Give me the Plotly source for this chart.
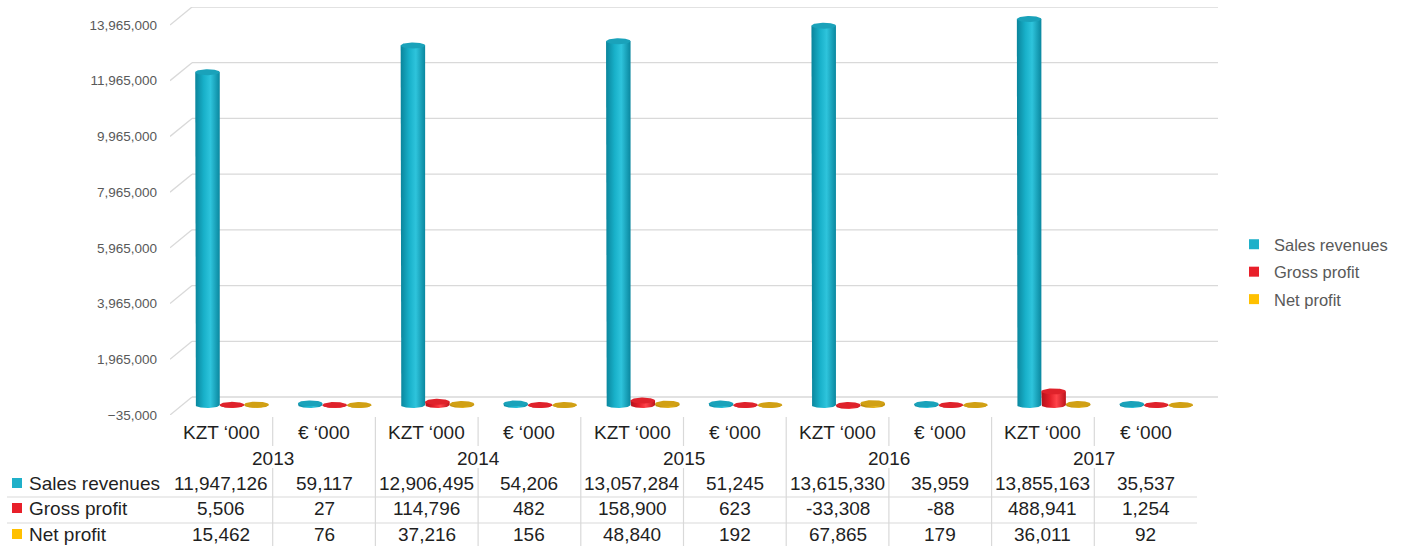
import numpy as np
import plotly.graph_objects as go

# ---- data -------------------------------------------------------------
years = ["2013", "2014", "2015", "2016", "2017"]
units = ["KZT \u2018000", "\u20ac \u2018000"]
series_names = ["Sales revenues", "Gross profit", "Net profit"]
sales_revenues = [11947126, 59117, 12906495, 54206, 13057284, 51245, 13615330, 35959, 13855163, 35537]
gross_profit = [5506, 27, 114796, 482, 158900, 623, -33308, -88, 488941, 1254]
net_profit = [15462, 76, 37216, 156, 48840, 192, 67865, 179, 36011, 92]
tick_values = [-35000, 1965000, 3965000, 5965000, 7965000, 9965000, 11965000, 13965000]

series_values = [sales_revenues, gross_profit, net_profit]
legend_colors = ["#1fb0c9", "#e8202a", "#ffc000"]
body_scales = [
    [[0, "#0a849b"], [0.35, "#18b0c9"], [0.62, "#2ec4dc"], [1, "#0a879f"]],
    [[0, "#b3111a"], [0.35, "#e41f29"], [0.62, "#ff434a"], [1, "#bd131c"]],
    [[0, "#b38405"], [0.35, "#d4a112"], [0.62, "#e7b720"], [1, "#bb8b07"]],
]
cap_colors = ["#1aa2ba", "#df222b", "#d1a014"]

# ---- geometry (pixels of the 1406x546 page) ----------------------------
W, H = 1406, 546
COL_W = 102.7            # width of one table column / category slot
PLOT_L = 170             # left edge of the category area
WALL_R = 1218            # right end of the back-wall grid lines
Y_FRONT_BOT, Y_FRONT_TOP = 415, 7  # vertical extent of the plot box
DEPTH = 9                # half depth offset of the 3-D floor (px)

n_cols = len(sales_revenues)
x_max = (WALL_R - PLOT_L) / COL_W
dy = (tick_values[-1] - tick_values[0]) / (Y_FRONT_BOT - Y_FRONT_TOP - 2 * DEPTH)
dx = 1.0 / COL_W
y_lo = tick_values[0] - DEPTH * dy
y_hi = tick_values[-1] + DEPTH * dy

def px(xp):
    return xp / W

def py(yp):
    return 1 - yp / H

fig = go.Figure()

# ---- cylinders ----------------------------------------------------------
radius = 12.25 * dx
ry = 3.0 * dy
t_low = np.linspace(np.pi, 2 * np.pi, 40)
t_full = np.linspace(0, 2 * np.pi, 80)
for i in range(n_cols):
    for j, vals in enumerate(series_values):
        v = vals[i]
        cx = i + (37.5 + 24.5 * j) * dx
        top, bot = max(v, 0), min(v, 0)
        bx = np.concatenate([[cx - radius], cx + radius * np.cos(t_low), [cx + radius, cx - radius]])
        by = np.concatenate([[top], bot + ry * np.sin(t_low), [top, top]])
        fig.add_trace(go.Scatter(
            x=bx, y=by, mode="lines", fill="toself", line=dict(width=0),
            fillgradient=dict(type="horizontal", colorscale=body_scales[j]),
            showlegend=False, hoverinfo="skip"))
        fig.add_trace(go.Scatter(
            x=cx + radius * np.cos(t_full), y=top + ry * np.sin(t_full),
            mode="lines", fill="toself", line=dict(width=0), fillcolor=cap_colors[j],
            showlegend=False, hoverinfo="skip"))

# ---- legend entries -----------------------------------------------------
for j, name in enumerate(series_names):
    fig.add_trace(go.Scatter(
        x=[None], y=[None], mode="markers", name=name, legendgroup=name,
        marker=dict(symbol="square", size=10, color=legend_colors[j])))

shapes = []
grid = dict(color="#d9d9d9", width=1.3)
# back wall grid lines with the diagonal floor edge
for v in tick_values:
    shapes.append(dict(type="line", xref="x", yref="y", x0=0, x1=22 * dx,
                       y0=v - DEPTH * dy, y1=v + DEPTH * dy, line=grid, layer="below"))
    shapes.append(dict(type="line", xref="x", yref="y", x0=22 * dx, x1=x_max,
                       y0=v + DEPTH * dy, y1=v + DEPTH * dy, line=grid, layer="below"))

# ---- data table ---------------------------------------------------------
annotations = []
table_font = dict(family="Arial, Liberation Sans, sans-serif", size=19, color="#1f1f1f")
ROW_HDR, ROW_YEAR = 432, 458
ROW_Y = [483, 508, 534]
for i in range(n_cols):
    annotations.append(dict(x=i + 0.5, y=py(ROW_HDR), xref="x", yref="paper",
                            text=units[i % 2], showarrow=False, font=table_font,
                            xanchor="center", yanchor="middle"))
for k, yr in enumerate(years):
    annotations.append(dict(x=2 * k + 1, y=py(ROW_YEAR), xref="x", yref="paper",
                            text=yr, showarrow=False, font=table_font,
                            xanchor="center", yanchor="middle"))
for j, vals in enumerate(series_values):
    annotations.append(dict(x=px(27), y=py(ROW_Y[j]), xref="paper", yref="paper",
                            text=series_names[j], showarrow=False, font=table_font,
                            xanchor="left", yanchor="middle"))
    shapes.append(dict(type="rect", xref="paper", yref="paper",
                       x0=px(12), x1=px(22), y0=py(ROW_Y[j] + 5), y1=py(ROW_Y[j] - 5),
                       fillcolor=legend_colors[j], line=dict(width=0)))
    for i, v in enumerate(vals):
        annotations.append(dict(x=i + 0.5, y=py(ROW_Y[j]), xref="x", yref="paper",
                                text=f"{v:,}", showarrow=False, font=table_font,
                                xanchor="center", yanchor="middle"))

tbl = dict(color="#d9d9d9", width=1.2)
for yl in (497, 523):
    shapes.append(dict(type="line", xref="paper", yref="paper", x0=px(7), x1=px(PLOT_L + n_cols * COL_W),
                       y0=py(yl), y1=py(yl), line=tbl))
for b in range(1, n_cols):
    if b % 2 == 0:
        shapes.append(dict(type="line", xref="x", yref="paper", x0=b, x1=b,
                           y0=py(417), y1=py(H), line=tbl))
    else:
        shapes.append(dict(type="line", xref="x", yref="paper", x0=b, x1=b,
                           y0=py(417), y1=py(446), line=tbl))
        shapes.append(dict(type="line", xref="x", yref="paper", x0=b, x1=b,
                           y0=py(468), y1=py(H), line=tbl))

fig.update_layout(
    width=W, height=H,
    margin=dict(l=0, r=0, t=0, b=0, autoexpand=False),
    paper_bgcolor="white", plot_bgcolor="white",
    showlegend=True,
    legend=dict(x=px(1234), y=py(227), xanchor="left", yanchor="top",
                font=dict(family="Arial, Liberation Sans, sans-serif", size=16.5, color="#595959"),
                tracegroupgap=3, bgcolor="rgba(0,0,0,0)"),
    xaxis=dict(domain=[px(PLOT_L), px(WALL_R)], range=[0, x_max], visible=False,
               automargin=False, fixedrange=True),
    yaxis=dict(domain=[py(Y_FRONT_BOT), py(Y_FRONT_TOP)], range=[y_lo, y_hi],
               tickvals=tick_values, tickformat=",d", showgrid=False, zeroline=False,
               showline=False, ticks="", ticklabelshift=DEPTH, ticklabelstandoff=12,
               automargin=False,
               tickfont=dict(family="Arial, Liberation Sans, sans-serif", size=13.5, color="#595959"),
               fixedrange=True),
    shapes=shapes,
    annotations=annotations,
)

fig.write_html("out.html")
